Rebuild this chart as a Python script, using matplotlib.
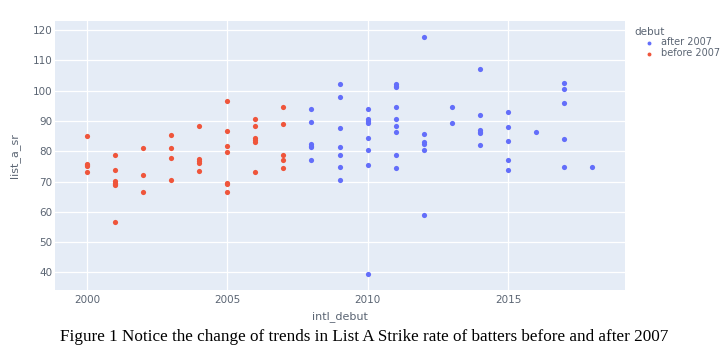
import matplotlib.pyplot as plt

# before 2007 debut (red)
before_year = [2000, 2000, 2000, 2000, 2000,
               2001, 2001, 2001, 2001, 2001, 2001, 2001,
               2002, 2002, 2002,
               2003, 2003, 2003, 2003,
               2004, 2004, 2004, 2004, 2004,
               2005, 2005, 2005, 2005, 2005, 2005, 2005,
               2006, 2006, 2006, 2006, 2006, 2006,
               2007, 2007, 2007, 2007, 2007]
before_sr = [85.2, 75.9, 75.4, 75.1, 73.1,
             78.7, 73.8, 70.3, 69.6, 69.2, 68.7, 56.5,
             81.0, 72.1, 66.5,
             85.3, 81.1, 77.8, 70.4,
             88.4, 77.3, 76.8, 76.2, 73.4,
             96.7, 86.7, 81.6, 79.6, 69.6, 69.2, 66.6,
             90.7, 88.4, 84.3, 83.6, 82.9, 73.1,
             94.7, 89.0, 78.7, 77.2, 74.6]

# after 2007 debut (blue)
after_year = [2008, 2008, 2008, 2008, 2008, 2008,
              2009, 2009, 2009, 2009, 2009, 2009, 2009,
              2010, 2010, 2010, 2010, 2010, 2010, 2010, 2010,
              2011, 2011, 2011, 2011, 2011, 2011, 2011, 2011, 2011,
              2012, 2012, 2012, 2012, 2012, 2012,
              2013, 2013,
              2014, 2014, 2014, 2014, 2014, 2014,
              2015, 2015, 2015, 2015, 2015,
              2016,
              2017, 2017, 2017, 2017, 2017,
              2018]
after_sr = [93.9, 89.5, 82.4, 81.8, 81.4, 77.0,
            102.1, 97.8, 87.6, 81.3, 78.8, 74.9, 70.5,
            93.9, 90.5, 90.0, 89.4, 84.3, 80.3, 75.4, 39.4,
            102.2, 101.7, 101.3, 94.6, 90.7, 88.2, 86.4, 78.7, 74.6,
            117.6, 85.8, 82.9, 82.5, 80.3, 58.8,
            94.6, 89.4,
            107.2, 91.9, 87.0, 86.4, 85.9, 82.0,
            92.9, 88.1, 83.3, 77.0, 73.8,
            86.3,
            102.5, 100.5, 96.1, 83.9, 74.8,
            74.8]

xticks = [2000, 2005, 2010, 2015]
yticks = [40, 50, 60, 70, 80, 90, 100, 110, 120]

txt = '#5b6573'

fig = plt.figure(figsize=(7.28, 3.51), dpi=100)
ax = fig.add_axes([0.0755, 0.174, 0.783, 0.766])
ax.set_facecolor('#E5ECF6')
ax.grid(color='white', linewidth=0.9)
ax.set_axisbelow(True)
for s in ax.spines.values():
    s.set_visible(False)

ax.scatter(after_year, after_sr, s=14, color='#636EFA', linewidths=0, label='after 2007', zorder=3)
ax.scatter(before_year, before_sr, s=14, color='#EF553B', linewidths=0, label='before 2007', zorder=3)

ax.set_xlim(1998.86, 2019.17)
ax.set_ylim(34.2, 123)
ax.set_xticks(xticks)
ax.set_yticks(yticks)
ax.tick_params(length=0, labelsize=7.5, labelcolor=txt)
ax.tick_params(axis='x', pad=4)
ax.tick_params(axis='y', pad=2)
ax.set_xlabel('intl_debut', fontsize=8, color=txt, labelpad=4)
ax.set_ylabel('list_a_sr', fontsize=8, color=txt, labelpad=9)

leg = ax.legend(title='debut', loc='upper left', bbox_to_anchor=(1.005, 1.005),
                frameon=False, fontsize=7, title_fontsize=7.5, markerscale=0.75,
                handlelength=2.9, handletextpad=-0.2, labelspacing=0.1, borderaxespad=0.3)
leg._legend_box.align = 'left'
for t in leg.get_texts():
    t.set_color(txt)
leg.get_title().set_color(txt)

fig.text(0.5, 0.04, 'Figure 1 Notice the change of trends in List A Strike rate of batters before and after 2007',
         ha='center', va='center', fontsize=12.3, family='Liberation Serif', color='black')

fig.savefig('out.png', dpi=100)
